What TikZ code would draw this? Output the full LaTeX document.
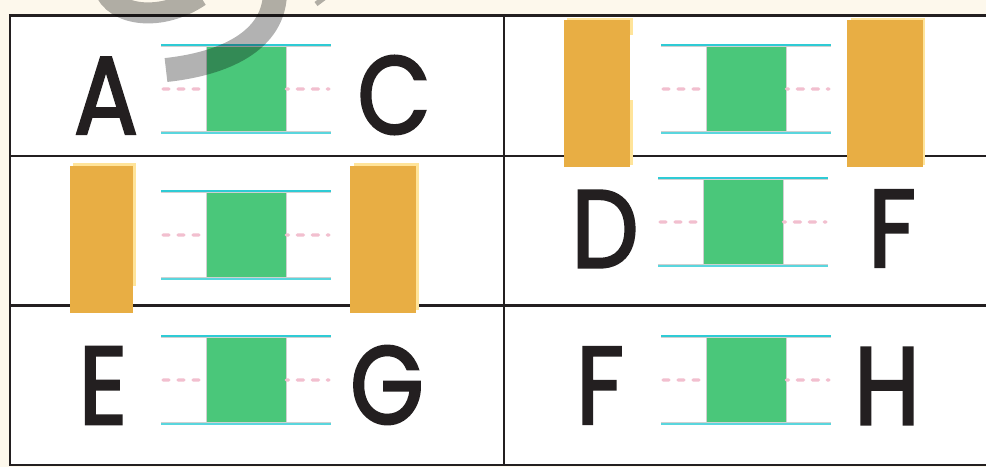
\documentclass[tikz,border=0pt]{standalone}
\usepackage{fontspec}
\usepackage{graphicx}
\newfontfamily\letterfont{Poppins}[FakeBold=2.5]
\definecolor{cream}{HTML}{FDF8EC}
\definecolor{inkc}{HTML}{231F20}
\definecolor{greenc}{HTML}{4AC77A}
\definecolor{cyanc}{HTML}{2FCBD5}
\definecolor{cyanl}{HTML}{5AD6DE}
\definecolor{pinkc}{HTML}{F2BFCF}
\definecolor{orangec}{HTML}{E8AE44}
\definecolor{shadowc}{HTML}{FFE49A}
\definecolor{edgec}{HTML}{D0D0D0}
\tikzset{
  gridline/.style={draw=inkc, line width=2.4pt},
  greenbox/.style={fill=greenc, draw=none, inner sep=0pt, minimum width=79.3pt, minimum height=88.5pt, anchor=north west},
  cyanline/.style={draw=cyanc, line width=2.4pt},
  cyanlow/.style={draw=cyanl, line width=2.2pt},
  greyline/.style={draw=edgec, line width=0.9pt},
  pinkdash/.style={draw=pinkc, line width=3.4pt, line cap=round, dash pattern=on 6pt off 9pt},
  padbox/.style={fill=orangec},
  padshadow/.style={fill=shadowc},
  letter/.style={text=inkc, inner sep=0pt, font=\letterfont\fontsize{110}{110}\selectfont},
  watermark/.style={draw=black, draw opacity=0.3, line width=24pt}
}
\newcommand\narrow[1]{\scalebox{0.86}[1]{#1}}
\newcommand\mycomp[3]{%
  \node[greenbox] (#3) at (#1+45.7,#2) {};
  \draw[greyline] ([xshift=-0.5pt]#3.north west) -- ([xshift=-0.5pt]#3.south west);
  \draw[greyline] ([xshift=0.5pt]#3.north east) -- ([xshift=0.5pt]#3.south east);
  \draw[greyline] (#1,#2+1.9) -- (#1+170,#2+1.9);
  \draw[cyanline] (#1,#2+0.3) -- (#1+170,#2+0.3);
  \draw[greyline] (#1,#2+87.2) -- (#1+170,#2+87.2);
  \draw[cyanlow] (#1,#2+88.6) -- (#1+170,#2+88.6);
  \coordinate (#3l) at (#1+2,#2+44.5);
  \coordinate (#3r) at (#1+168,#2+44.5);
  \draw[pinkdash] (#3l) -- (#3.west);
  \draw[pinkdash, dash phase=4pt] (#3.east) -- (#3r);
}
\begin{document}
\begin{tikzpicture}[x=1pt,y=-1pt]
\useasboundingbox (0,0) rectangle (986,467);
\fill[cream] (0,0) rectangle (986,467);
\fill[white] (10,15) rectangle (992,465);
% components
\mycomp{161}{44.5}{c1}
\mycomp{661}{44.5}{c2}
\mycomp{161}{190.5}{c3}
\mycomp{658}{177.5}{c4}
\mycomp{161}{335.5}{c5}
\mycomp{661}{335.5}{c6}
% grid
\draw[gridline] (8.8,15.5) -- (992,15.5);
\draw[gridline] (10,15.5) -- (10,465);
\draw[gridline] (8.8,465) -- (992,465);
\draw[gridline] (10,156) -- (992,156);
\draw[gridline] (10,305.5) -- (992,305.5);
\draw[gridline] (504,15.5) -- (504,465);
% pads, top right cell
\fill[padshadow] (566.5,18) rectangle (633,35);
\fill[padshadow] (566.5,100) rectangle (633,165);
\fill[padbox] (564,20) rectangle (630,167);
\fill[padshadow] (850.7,17.7) rectangle (925.3,165);
\fill[padbox] (847,20) rectangle (922.7,167);
% pads, middle left cell
\fill[padshadow] (72.7,163.3) rectangle (136,286);
\fill[padbox] (70,166) rectangle (132.7,313.3);
\fill[padshadow] (354,163.3) rectangle (418.7,310);
\fill[padbox] (350,166) rectangle (416,313.3);
% letters
\node[letter] (la) at (106,95.5) {\narrow{A}};
\node[letter] (lc) at (394,95) {\narrow{C}};
\node[letter] (ld) at (605,229) {\narrow{D}};
\node[letter] (lf1) at (892,228.5) {\narrow{F}};
\node[letter] (le) at (103,385.5) {\narrow{E}};
\node[letter] (lg) at (387,385) {\narrow{G}};
\node[letter] (lf2) at (600,385.5) {\narrow{F}};
\node[letter] (lh) at (887,386) {\narrow{H}};
% watermark strokes
\draw[watermark] (166,70) .. controls (222,64) and (276,42) .. (275,-10);
\draw[watermark, line width=21pt] (104,-12) .. controls (114,17) and (162,22) .. (200,-4);
\draw[watermark, line width=5pt] (316,4) -- (324,-2);
\end{tikzpicture}
\end{document}
